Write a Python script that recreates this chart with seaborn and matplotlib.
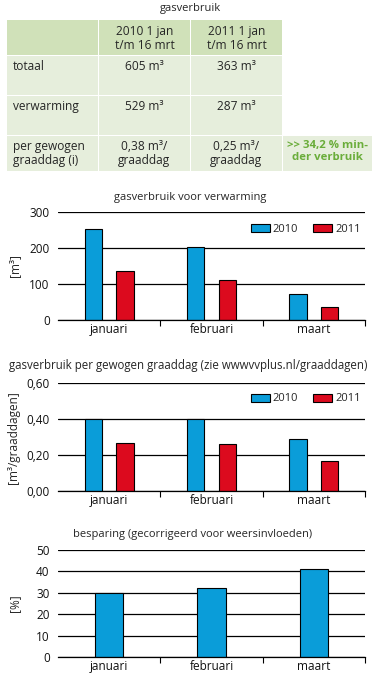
import matplotlib
matplotlib.use("Agg")
import matplotlib.pyplot as plt
import seaborn as sns
import pandas as pd
from matplotlib.patches import Rectangle

# data
MONTHS = ["januari", "februari", "maart"]
YEARS = ["2010", "2011"]
HEAT_2010 = [253, 203, 72]
HEAT_2011 = [136, 111, 36]
PERDD_2010 = [0.40, 0.40, 0.289]
PERDD_2011 = [0.267, 0.263, 0.168]
SAVING = [30.0, 32.1, 41.0]

TABLE_HEADER = ["", "2010 1 jan\nt/m 16 mrt", "2011 1 jan\nt/m 16 mrt"]
TABLE_ROWS = [
    ["totaal", "605 m³", "363 m³"],
    ["verwarming", "529 m³", "287 m³"],
    ["per gewogen\ngraaddag (i)", "0,38 m³/\ngraaddag", "0,25 m³/\ngraaddag"],
]
TABLE_NOTE = ">> 34,2 % min-\nder verbruik"

BLUE = "#0a9dd9"
RED = "#dc0a1e"
HEAD_GREEN = "#d0e1b9"
BODY_GREEN = "#e6eedc"
TEXT_GREEN = "#6aad3a"
TAB_FS = 8.6

sns.set_theme(style="white")
plt.rcParams["font.family"] = ["Open Sans", "DejaVu Sans"]
plt.rcParams["font.size"] = 8

W, H = 381, 680
fig = plt.figure(figsize=(W / 100, H / 100), dpi=100)
fig.patch.set_facecolor("white")

# ---- table (pixel coordinates) ----
tab = fig.add_axes([0, 0, 1, 1])
tab.set_xlim(0, W)
tab.set_ylim(H, 0)
tab.axis("off")
col_x = [(7, 98), (99, 190), (191, 282), (283, 372)]
row_y = [(20, 55), (56, 95), (96, 135), (136, 171)]

tab.text(190, 9, "gasverbruik", ha="center", va="center", fontsize=8)
for c, label in enumerate(TABLE_HEADER):
    x0, x1 = col_x[c]
    y0, y1 = row_y[0]
    tab.add_patch(Rectangle((x0, y0), x1 - x0, y1 - y0, color=HEAD_GREEN, lw=0))
    tab.text((x0 + x1) / 2, y0 + 5, label, ha="center", va="top",
             fontsize=TAB_FS, linespacing=1.1)
for r, row in enumerate(TABLE_ROWS):
    y0, y1 = row_y[r + 1]
    for c, label in enumerate(row):
        x0, x1 = col_x[c]
        tab.add_patch(Rectangle((x0, y0), x1 - x0, y1 - y0, color=BODY_GREEN, lw=0))
        if c == 0:
            tab.text(x0 + 6, y0 + 4, label, ha="left", va="top", fontsize=TAB_FS,
                     linespacing=1.1)
        else:
            tab.text((x0 + x1) / 2, y0 + 4, label, ha="center", va="top", fontsize=TAB_FS,
                     linespacing=1.1)
x0, x1 = col_x[3]
y0, y1 = row_y[3]
tab.add_patch(Rectangle((x0, y0), x1 - x0, y1 - y0, color=BODY_GREEN, lw=0))
tab.text((x0 + x1) / 2, y0 + 4, TABLE_NOTE, ha="center", va="top", fontsize=8.2,
         fontweight="bold", color=TEXT_GREEN, linespacing=1.1)


def style_axis(ax, ymax, yticks, ylabels):
    ax.set_xlim(-0.5, 2.5)
    ax.set_ylim(0, ymax)
    ax.set_yticks(yticks)
    ax.set_yticklabels(ylabels)
    ax.set_xticks([0, 1, 2])
    ax.set_xticklabels(MONTHS)
    ax.set_xticks([0.5, 1.5, 2.5], minor=True)
    ax.tick_params(axis="x", which="major", length=0, pad=2, labelsize=8.5, colors="#111111")
    ax.tick_params(axis="x", which="minor", length=4, width=0.8, direction="out",
                   color="black", bottom=True)
    ax.tick_params(axis="y", length=0, pad=6, labelsize=8.5, colors="#111111")
    for y in yticks:
        ax.axhline(y, color="black", lw=0.9, zorder=0)
    for s in ["top", "right", "left"]:
        ax.spines[s].set_visible(False)
    ax.spines["bottom"].set_color("black")
    ax.spines["bottom"].set_linewidth(0.9)
    ax.set_xlabel("")
    ax.set_ylabel("")
    ax.set_facecolor("none")


def add_legend(ax, y):
    ax.legend(loc="center right", bbox_to_anchor=(1.0, y), frameon=False, ncol=2,
              fontsize=8, handlelength=1.7, handleheight=0.75, handletextpad=0.3,
              columnspacing=1.3, borderaxespad=0)


# ---- chart 1 ----
ax1 = fig.add_axes([58 / W, 1 - 320 / H, 307 / W, 108 / H])
df1 = pd.DataFrame({
    "maand": MONTHS * 2,
    "jaar": [YEARS[0]] * 3 + [YEARS[1]] * 3,
    "waarde": HEAT_2010 + HEAT_2011,
})
sns.barplot(data=df1, x="maand", y="waarde", hue="jaar", palette=[BLUE, RED], saturation=1,
            width=0.62, gap=0.45, edgecolor="black", linewidth=0.8, ax=ax1, zorder=2)
style_axis(ax1, 300, [0, 100, 200, 300], ["0", "100", "200", "300"])
add_legend(ax1, 0.84)
fig.text(190 / W, 1 - 197 / H, "gasverbruik voor verwarming", ha="center", va="center",
         fontsize=8)
fig.text(15 / W, 1 - 266 / H, "[m³]", ha="center", va="center", rotation=90, fontsize=8.5)

# ---- chart 2 ----
ax2 = fig.add_axes([58 / W, 1 - 491.3 / H, 307 / W, 108 / H])
df2 = pd.DataFrame({
    "maand": MONTHS * 2,
    "jaar": [YEARS[0]] * 3 + [YEARS[1]] * 3,
    "waarde": PERDD_2010 + PERDD_2011,
})
sns.barplot(data=df2, x="maand", y="waarde", hue="jaar", palette=[BLUE, RED], saturation=1,
            width=0.62, gap=0.45, edgecolor="black", linewidth=0.8, ax=ax2, zorder=2)
style_axis(ax2, 0.6, [0, 0.2, 0.4, 0.6], ["0,00", "0,20", "0,40", "0,60"])
add_legend(ax2, 0.855)
fig.text(188 / W, 1 - 365 / H, "gasverbruik per gewogen graaddag (zie wwwvvplus.nl/graaddagen)",
         ha="center", va="center", fontsize=8.3)
fig.text(14 / W, 1 - 438 / H, "[m³/graaddagen]", ha="center", va="center", rotation=90,
         fontsize=8.5)

# ---- chart 3 ----
ax3 = fig.add_axes([58 / W, 1 - 657.3 / H, 307 / W, 107.3 / H])
df3 = pd.DataFrame({"maand": MONTHS, "waarde": SAVING})
sns.barplot(data=df3, x="maand", y="waarde", color=BLUE, saturation=1, width=0.28,
            edgecolor="black", linewidth=0.8, ax=ax3, zorder=2)
style_axis(ax3, 50, [0, 10, 20, 30, 40, 50], ["0", "10", "20", "30", "40", "50"])
fig.text(193 / W, 1 - 534 / H, "besparing (gecorrigeerd voor weersinvloeden)", ha="center",
         va="center", fontsize=8)
fig.text(15 / W, 1 - 603 / H, "[%]", ha="center", va="center", rotation=90, fontsize=8.5)

fig.savefig("out.png", dpi=100)
